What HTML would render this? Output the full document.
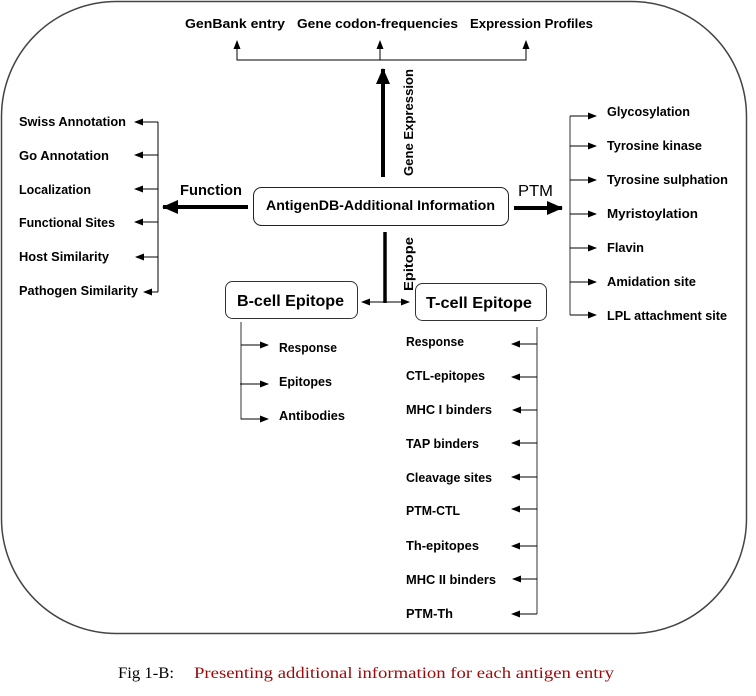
<!DOCTYPE html>
<html><head><meta charset="utf-8"><style>
html,body{margin:0;padding:0;background:#fff;width:756px;height:696px;overflow:hidden}
svg{display:block}
.t{font-family:"Liberation Sans",sans-serif;font-weight:bold;font-size:13px;fill:#000}
.b{font-family:"Liberation Sans",sans-serif;font-size:16px;fill:#000}
</style></head><body>
<svg width="756" height="696" viewBox="0 0 756 696" xmlns="http://www.w3.org/2000/svg">
<defs>
<marker id="a" markerWidth="9" markerHeight="7" refX="8" refY="3.5" orient="auto" markerUnits="userSpaceOnUse"><path d="M0,0 L9,3.5 L0,7 Z" fill="#000"/></marker>
<marker id="A" markerWidth="16" markerHeight="14" refX="15" refY="7" orient="auto" markerUnits="userSpaceOnUse"><path d="M0,0 L16,7 L0,14 Z" fill="#000"/></marker>
</defs>
<rect x="1.5" y="1.5" width="745" height="632" rx="115" ry="115" fill="none" stroke="#444" stroke-width="1.5"/>

<text class="t" x="185" y="28" textLength="100" lengthAdjust="spacingAndGlyphs">GenBank entry</text>
<text class="t" x="297" y="28" textLength="161" lengthAdjust="spacingAndGlyphs">Gene codon-frequencies</text>
<text class="t" x="470" y="28" textLength="123" lengthAdjust="spacingAndGlyphs">Expression Profiles</text>
<polyline points="237,43 237,60 526,60 526,43" fill="none" stroke="#000" stroke-width="1"/>
<line x1="237" y1="60" x2="237" y2="41" stroke="#000" marker-end="url(#a)"/>
<line x1="380" y1="60" x2="380" y2="41" stroke="#000" marker-end="url(#a)"/>
<line x1="526" y1="60" x2="526" y2="41" stroke="#000" marker-end="url(#a)"/>
<line x1="383" y1="177" x2="383" y2="69" stroke="#000" stroke-width="4" marker-end="url(#A)"/>
<text class="t" transform="translate(413,176) rotate(-90)" textLength="107" lengthAdjust="spacingAndGlyphs">Gene Expression</text>

<rect x="253.5" y="187.5" width="255" height="38" rx="8" fill="#fff" stroke="#222"/>
<text class="t" x="266" y="210" textLength="229" lengthAdjust="spacingAndGlyphs" style="font-size:14px">AntigenDB-Additional Information</text>

<text class="t" x="180" y="195" textLength="62" lengthAdjust="spacingAndGlyphs" style="font-size:15px">Function</text>
<line x1="248" y1="207" x2="163" y2="207" stroke="#000" stroke-width="4" marker-end="url(#A)"/>
<line x1="158" y1="122" x2="158" y2="292" stroke="#000"/>
<g stroke="#000">
<line x1="158" y1="122" x2="135" y2="122" marker-end="url(#a)"/>
<line x1="158" y1="155" x2="135" y2="155" marker-end="url(#a)"/>
<line x1="158" y1="189" x2="135" y2="189" marker-end="url(#a)"/>
<line x1="158" y1="222" x2="135" y2="222" marker-end="url(#a)"/>
<line x1="158" y1="257" x2="136" y2="257" marker-end="url(#a)"/>
<line x1="158" y1="292" x2="144" y2="292" marker-end="url(#a)"/>
</g>
<text class="t" x="19" y="126" textLength="107" lengthAdjust="spacingAndGlyphs">Swiss Annotation</text>
<text class="t" x="19" y="160" textLength="90" lengthAdjust="spacingAndGlyphs">Go Annotation</text>
<text class="t" x="19" y="194" textLength="72" lengthAdjust="spacingAndGlyphs">Localization</text>
<text class="t" x="19" y="227" textLength="96" lengthAdjust="spacingAndGlyphs">Functional Sites</text>
<text class="t" x="19" y="261" textLength="90" lengthAdjust="spacingAndGlyphs">Host Similarity</text>
<text class="t" x="19" y="295" textLength="119" lengthAdjust="spacingAndGlyphs">Pathogen Similarity</text>

<text x="518" y="196" textLength="35" lengthAdjust="spacingAndGlyphs" style="font-family:'Liberation Sans',sans-serif;font-size:16px">PTM</text>
<line x1="514" y1="208" x2="562" y2="208" stroke="#000" stroke-width="4" marker-end="url(#A)"/>
<line x1="570" y1="116" x2="570" y2="315" stroke="#333"/>
<g stroke="#000">
<line x1="570" y1="116" x2="596" y2="116" marker-end="url(#a)"/>
<line x1="570" y1="146" x2="596" y2="146" marker-end="url(#a)"/>
<line x1="570" y1="180" x2="596" y2="180" marker-end="url(#a)"/>
<line x1="570" y1="214" x2="596" y2="214" marker-end="url(#a)"/>
<line x1="570" y1="248" x2="596" y2="248" marker-end="url(#a)"/>
<line x1="570" y1="282" x2="596" y2="282" marker-end="url(#a)"/>
<line x1="570" y1="315" x2="596" y2="315" marker-end="url(#a)"/>
</g>
<text class="t" x="607" y="116" textLength="83" lengthAdjust="spacingAndGlyphs">Glycosylation</text>
<text class="t" x="607" y="150" textLength="95" lengthAdjust="spacingAndGlyphs">Tyrosine kinase</text>
<text class="t" x="607" y="184" textLength="121" lengthAdjust="spacingAndGlyphs">Tyrosine sulphation</text>
<text class="t" x="607" y="218" textLength="91" lengthAdjust="spacingAndGlyphs">Myristoylation</text>
<text class="t" x="607" y="252" textLength="37" lengthAdjust="spacingAndGlyphs">Flavin</text>
<text class="t" x="607" y="286" textLength="89" lengthAdjust="spacingAndGlyphs">Amidation site</text>
<text class="t" x="607" y="320" textLength="120" lengthAdjust="spacingAndGlyphs">LPL attachment site</text>

<line x1="385" y1="232" x2="385" y2="303" stroke="#000" stroke-width="3.5"/>
<text class="t" transform="translate(413,291) rotate(-90)" textLength="54" lengthAdjust="spacingAndGlyphs">Epitope</text>
<line x1="385" y1="302" x2="362" y2="302" stroke="#000" marker-end="url(#a)"/>
<line x1="385" y1="302" x2="409" y2="302" stroke="#000" marker-end="url(#a)"/>
<rect x="225.5" y="281.5" width="132" height="37" rx="7" fill="#fff" stroke="#333"/>
<text class="b" x="237" y="306" textLength="107" lengthAdjust="spacingAndGlyphs" style="font-weight:bold">B-cell Epitope</text>
<rect x="415.5" y="283.5" width="131" height="37" rx="7" fill="#fff" stroke="#333"/>
<text class="b" x="426" y="308" textLength="106" lengthAdjust="spacingAndGlyphs" style="font-weight:bold">T-cell Epitope</text>

<polyline points="241,322 241,419 266,419" fill="none" stroke="#333"/>
<g stroke="#000">
<line x1="241" y1="345" x2="268" y2="345" marker-end="url(#a)"/>
<line x1="240" y1="384" x2="268" y2="384" marker-end="url(#a)"/>
<line x1="241" y1="419" x2="268" y2="419" marker-end="url(#a)"/>
</g>
<text class="t" x="279" y="352" textLength="58" lengthAdjust="spacingAndGlyphs">Response</text>
<text class="t" x="279" y="386" textLength="53" lengthAdjust="spacingAndGlyphs">Epitopes</text>
<text class="t" x="279" y="420" textLength="66" lengthAdjust="spacingAndGlyphs">Antibodies</text>

<line x1="537" y1="327" x2="537" y2="614" stroke="#333"/>
<g stroke="#000">
<line x1="537" y1="344" x2="512" y2="344" marker-end="url(#a)"/>
<line x1="537" y1="377" x2="512" y2="377" marker-end="url(#a)"/>
<line x1="537" y1="410" x2="513" y2="410" marker-end="url(#a)"/>
<line x1="537" y1="443" x2="512" y2="443" marker-end="url(#a)"/>
<line x1="537" y1="477" x2="512" y2="477" marker-end="url(#a)"/>
<line x1="537" y1="509" x2="512" y2="509" marker-end="url(#a)"/>
<line x1="537" y1="546" x2="512" y2="546" marker-end="url(#a)"/>
<line x1="537" y1="579" x2="513" y2="579" marker-end="url(#a)"/>
<line x1="537" y1="614" x2="512" y2="614" marker-end="url(#a)"/>
</g>
<text class="t" x="406" y="346" textLength="58" lengthAdjust="spacingAndGlyphs">Response</text>
<text class="t" x="406" y="380" textLength="79" lengthAdjust="spacingAndGlyphs">CTL-epitopes</text>
<text class="t" x="406" y="414" textLength="86" lengthAdjust="spacingAndGlyphs">MHC I binders</text>
<text class="t" x="406" y="448" textLength="73" lengthAdjust="spacingAndGlyphs">TAP binders</text>
<text class="t" x="406" y="482" textLength="86" lengthAdjust="spacingAndGlyphs">Cleavage sites</text>
<text class="t" x="406" y="515" textLength="54" lengthAdjust="spacingAndGlyphs">PTM-CTL</text>
<text class="t" x="406" y="550" textLength="73" lengthAdjust="spacingAndGlyphs">Th-epitopes</text>
<text class="t" x="406" y="584" textLength="90" lengthAdjust="spacingAndGlyphs">MHC II binders</text>
<text class="t" x="406" y="618" textLength="47" lengthAdjust="spacingAndGlyphs">PTM-Th</text>

<text x="118" y="678" style="font-family:'Liberation Serif',serif;font-size:16px;fill:#000" textLength="56" lengthAdjust="spacingAndGlyphs">Fig 1-B:</text>
<text x="194" y="678" style="font-family:'Liberation Serif',serif;font-size:16px;fill:#9b0a0a" textLength="420" lengthAdjust="spacingAndGlyphs">Presenting additional information for each antigen entry</text>
</svg>
</body></html>
